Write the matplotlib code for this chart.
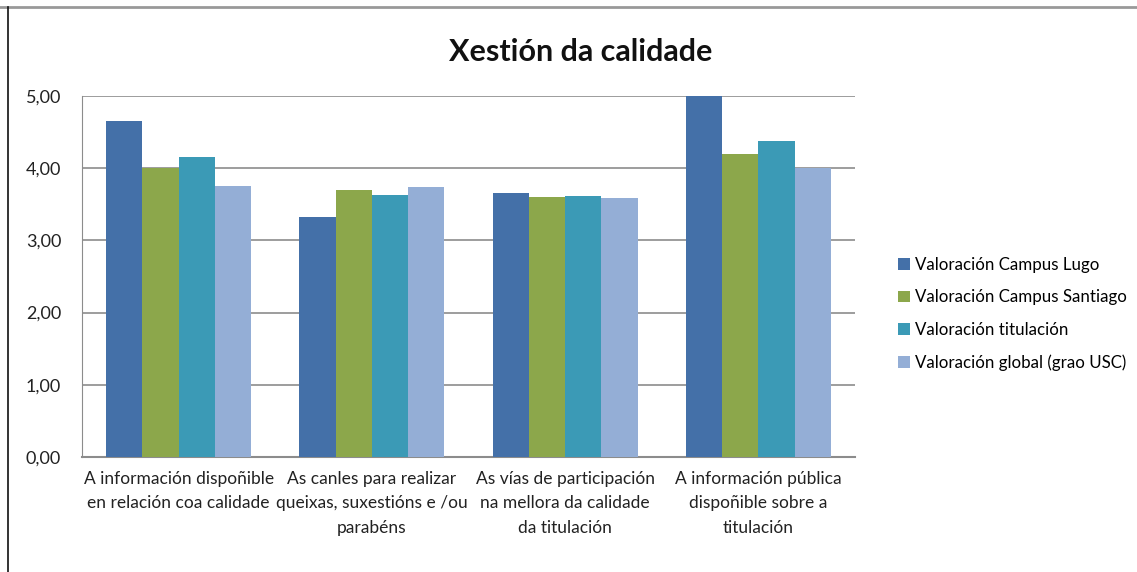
import numpy as np
import matplotlib
matplotlib.use("Agg")
import matplotlib.pyplot as plt
from matplotlib.lines import Line2D
from matplotlib.ticker import FuncFormatter

# Daten
categories = [
    "A información dispoñible\nen relación coa calidade",
    "As canles para realizar\nqueixas, suxestións e /ou\nparabéns",
    "As vías de participación\nna mellora da calidade\nda titulación",
    "A información pública\ndispoñible sobre a\ntitulación",
]
series_names = [
    "Valoración Campus Lugo",
    "Valoración Campus Santiago",
    "Valoración titulación",
    "Valoración global (grao USC)",
]
lugo = [4.66, 3.32, 3.66, 5.00]
santiago = [4.00, 3.70, 3.60, 4.20]
titulacion = [4.15, 3.63, 3.62, 4.38]
global_usc = [3.75, 3.74, 3.59, 4.00]
colors = ["#4470a8", "#8ca74b", "#3b9ab6", "#94aed6"]

plt.rcParams["font.family"] = ["Lato", "DejaVu Sans"]

fig = plt.figure(figsize=(11.37, 5.72), dpi=100)
ax = fig.add_axes([82 / 1137, 1 - 457 / 572, (855 - 82) / 1137, (457 - 96) / 572])

x = np.arange(len(categories))
width = 0.1875
values = [lugo, santiago, titulacion, global_usc]
for i, (name, vals) in enumerate(zip(series_names, values)):
    ax.bar(x + (i - 1.5) * width, vals, width, color=colors[i], label=name, zorder=3)

ax.set_xlim(-0.5, len(categories) - 0.5)
ax.set_ylim(0, 5)
ax.set_yticks([0, 1, 2, 3, 4, 5])
ax.yaxis.set_major_formatter(FuncFormatter(lambda v, p: f"{v:.2f}".replace(".", ",")))
ax.set_xticks(x)
ax.set_xticklabels(categories, fontsize=12.5, color="#222222", linespacing=1.65)
ax.tick_params(axis="y", labelsize=13, length=0, pad=15, colors="#222222")
ax.tick_params(axis="x", length=0, pad=10)
ax.grid(axis="y", color="#8c8c8c", linewidth=1.2, zorder=0)

for s in ["top", "right"]:
    ax.spines[s].set_visible(False)
ax.spines["left"].set_color("#8c8c8c")
ax.spines["bottom"].set_color("#8c8c8c")
ax.spines["bottom"].set_linewidth(1.5)

fig.text(581 / 1137, 1 - 52 / 572, "Xestión da calidade",
         ha="center", va="center", fontsize=22, fontweight="bold", color="#111111")

fig.legend(loc="center left", bbox_to_anchor=(883 / 1137, 1 - 314 / 572),
           frameon=False, fontsize=12.2, handlelength=0.7, handleheight=0.7,
           handletextpad=0.3, labelspacing=0.98)

# Rahmen
fig.add_artist(Line2D([0, 1], [1 - 7 / 572, 1 - 7 / 572], color="#999999", linewidth=2))
fig.add_artist(Line2D([8 / 1137, 8 / 1137], [0, 1 - 7 / 572], color="#111111", linewidth=1.2))

fig.savefig("out.png", dpi=100)
